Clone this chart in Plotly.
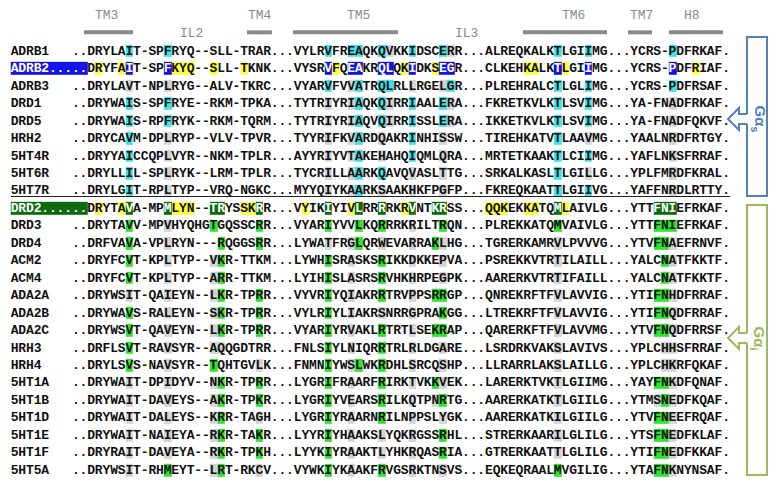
import plotly.graph_objects as go

# ---------------- data ----------------
names = ["ADRB1", "ADRB2", "ADRB3", "DRD1", "DRD5", "HRH2", "5HT4R", "5HT6R", "5HT7R",
         "DRD2", "DRD3", "DRD4", "ACM2", "ACM4", "ADA2A", "ADA2B", "ADA2C", "HRH3", "HRH4",
         "5HT1A", "5HT1B", "5HT1D", "5HT1E", "5HT1F", "5HT5A"]

# sequence blocks (TM3-IL2-TM4 | TM5-IL3 | TM6 | TM7-H8)
seg_tm3 = ["DRYLAIT-SPFRYQ--SLL-TRAR", "DRYFAIT-SPFKYQ--SLL-TKNK", "DRYLAVT-NPLRYG--ALV-TKRC",
           "DRYWAIS-SPFRYE--RKM-TPKA", "DRYWAIS-RPFRYK--RKM-TQRM", "DRYCAVM-DPLRYP--VLV-TPVR",
           "DRYYAICCQPLVYR--NKM-TPLR", "DRYLLIL-SPLRYK--LRM-TPLR", "DRYLGIT-RPLTYP--VRQ-NGKC",
           "DRYTAVA-MPMLYN--TRYSSKRR", "DRYTAVV-MPVHYQHGTGQSSCRR", "DRFVAVA-VPLRYN---RQGGSRR",
           "DRYFCVT-KPLTYP--VKR-TTKM", "DRYFCVT-KPLTYP--ARR-TTKM", "DRYWSIT-QAIEYN--LKR-TPRR",
           "DRYWAVS-RALEYN--SKR-TPRR", "DRYWSVT-QAVEYN--LKR-TPRR", "DRFLSVT-RAVSYR--AQQGDTRR",
           "DRYLSVS-NAVSYR--TQHTGVLK", "DRYWAIT-DPIDYV--NKR-TPRR", "DRYWAIT-DAVEYS--AKR-TPKR",
           "DRYWAIT-DALEYS--KRR-TAGH", "DRYWAIT-NAIEYA--RKR-TAKR", "DRYRAIT-DAVEYA--RKR-TPKH",
           "DRYWSIT-RHMEYT--LRT-RKCV"]
seg_tm5 = ["VYLRVFREAQKQVKKIDSCERR", "VYSRVFQEAKRQLQKIDKSEGR", "VYARVFVVATRQLRLLRGELGR",
           "TYTRIYRIAQKQIRRIAALERA", "TYTRIYRIAQVQIRRISSLERA", "TYYRIFKVARDQAKRINHISSW",
           "AYYRIYVTAKEHAHQIQMLQRA", "TYCRILLAARKQAVQVASLTTG", "MYYQIYKAARKSAAKHKFPGFP",
           "VYIKIYIVLRRRRKRVNTKRSS", "VYARIYVVLKQRRRKRILTRQN", "LYWATFRGLQRWEVARRAKLHG",
           "LYWHISRASKSRIKKDKKEPVA", "LYIHISLASRSRVHKHRPEGPK", "VYVRIYQIAKRRTRVPPSRRGP",
           "VYLRIYLIAKRSNRRGPRAKGG", "VYARIYRVAKLRTRTLSEKRAP", "FNLSIYLNIQRRTRLRLDGARE",
           "FNMNIYWSLWKRDHLSRCQSHP", "LYGRIFRAARFRIRKTVKKVEK", "LYGRIYVEARSRILKQTPNRTG",
           "LYGRIYRAARNRILNPPSLYGK", "LYYRIYHAAKSLYQKRGSSRHL", "LYYKIYRAAKTLYHKRQASRIA",
           "VYWKIYKAAKFRVGSRKTNSVS"]
seg_tm6 = ["ALREQKALKTLGIIMG", "CLKEHKALKTLGIIMG", "PLREHRALCTLGLIMG", "FKRETKVLKTLSVIMG",
           "IKKETKVLKTLSVIMG", "TIREHKATVTLAAVMG", "MRTETKAAKTLCIIMG", "SRKALKASLTLGILLG",
           "FKREQKAATTLGIIVG", "QQKEKKATQMLAIVLG", "PLREKKATQMVAIVLG", "TGRERKAMRVLPVVVG",
           "PSREKKVTRTILAILL", "AARERKVTRTIFAILL", "QNREKRFTFVLAVVIG", "LTREKRFTFVLAVVIG",
           "QARERKFTFVLAVVMG", "LSRDRKVAKSLAVIVS", "LLRARRLAKSLAILLG", "LARERKTVKTLGIIMG",
           "AARERKATKTLGIILG", "AARERKATKILGIILG", "STRERKAARILGLILG", "GTRERKAATTLGLILG",
           "EQKEQRAALMVGILIG"]
seg_tm7 = ["YCRS-PDFRKAF", "YCRS-PDFRIAF", "YCRS-PDFRSAF", "YA-FNADFRKAF", "YA-FNADFQKVF",
           "YAALNRDFRTGY", "YAFLNKSFRRAF", "YPLFMRDFKRAL", "YAFFNRDLRTTY", "YTTFNIEFRKAF",
           "YTTFNIEFRKAF", "YTVFNAEFRNVF", "YALCNATFKKTF", "YALCNATFKKTF", "YTIFNHDFRRAF",
           "YTIFNQDFRRAF", "YTVFNQDFRRSF", "YPLCHHSFRRAF", "YPLCHKRFQKAF", "YAYFNKDFQNAF",
           "YTMSNEDFKQAF", "YTVFNEEFRQAF", "YTSFNEDFKLAF", "YTIFNEDFKKAF", "YTAFNKNYNSAF"]

# residue shading: c cyan, g grey, y yellow, b blue, G green, d dark green, . none
hl_tm3 = [".....c....c.............", ".y..yb....byyy..y...y...", ".....g....g.............",
          ".....c....c.............", ".....c....c.............", ".....c....g.............",
          ".....c....g.............", ".....c....g.............", ".....c....g.............",
          ".y..yd....dyyy..dd..yyd.", ".....G....g.....G.....G.", ".....G....g......G....G.",
          ".....G....g.....gG......", ".....G....g.....gG......", ".....g....g.....gG....G.",
          ".....G....g.....gG....G.", ".....G....g.....gG....G.", ".....G....g.....gg......",
          ".....G....g.....G.....g.", ".....g....g.....gG....G.", ".....g....g.....gG....G.",
          ".....g....g.....gG....g.", ".....g....g.....gG....G.", ".....g....g.....gG....G.",
          ".....g....G.....gG....g."]
hl_tm5 = ["....c..cc..cg..c...cg.", "....by.bb..bb.yb..ybb.", "....c..gc..cc..g...gc.",
          "....g..gc..cg..c...cg.", "....g..gc..cg..c...cg.", "....g..gc..g...c...g..",
          "....g..gc..g...c...g..", "....g..gc..c...g...g..", "....g..gc..g...g...g..",
          ".y..d..yd..d..yd..dd..", "....G...G..G...g...G..", "....g..gG..g...g..Gg..",
          "....G..g...G...g...g..", "....G..g...G...g...g..", "....G..g...G...g..GG..",
          "....G..g...g...g...G..", "....G..g...G...g..GG..", "....G..g...G...g...g..",
          "....G..gG..G...g...g..", "....G..g...G...g..Gg..", "....G..g...G...g..gG..",
          "....G..g...G...g...g..", "....G..g...g...g...G..", "....G..g...g...g...G..",
          "....G..g...G...g...g.."]
hl_tm6 = [".........c...c..", ".....yy..by..b..", ".........c...c..", ".........c...c..",
          ".........c...c..", ".........c...g..", ".........c...c..", ".........c...g..",
          ".........c...c..", "yyy..yy..dy.....", ".........G......", ".........g......",
          ".........g......", ".........g......", ".........g......", ".........g......",
          ".........g......", ".........g......", ".........g......", ".........g......",
          ".........g......", ".........g......", ".........g......", ".........g......",
          ".........G......"]
hl_tm7 = [".....c......", ".....b..y...", ".....c......", ".....g......", ".....g......",
          ".....g......", ".....g......", ".....g......", ".....g......", "...ddd......",
          "...GGG......", "...GGg......", "....Gg......", "....Gg......", "...GGg......",
          "...GGg......", "...GGg......", "....gg......", "....gg......", "...GGg......",
          "...gGg......", "...GGg......", "...GGg......", "...GGg......", "...GGg......"]

name_shading = {"ADRB2": "b", "DRD2": "d"}

region_labels = ["TM3", "TM4", "TM5", "TM6", "TM7", "H8"]
loop_labels = ["IL2", "IL3"]

# ---------------- styling ----------------
# the page body has an 8 px margin, so the figure is drawn 8 px smaller and all
# positions below are expressed in page pixels
OFF = 8
W, H = 780, 490
FW, FH = W - OFF, H - OFF
CW = 7.65            # px per column
X0PX = 75.8          # page pixel centre of column 0
ROW0PX, ROWH = 51.5, 17.46

codes = {"c": 0, "g": 1, "y": 2, "b": 3, "G": 4, "d": 5}
cols = ["#3fe3e6", "#d4d4d4", "#ffff3a", "#1414e8", "#2ee52e", "#0c6b0f"]


def px_to_x(px):
    return (px - X0PX) / CW


def py_to_y(py):
    return (py - ROW0PX) / ROWH


ncol_first = -8
xs_all = list(range(ncol_first, 86))
z = []
tx, ty, tt, tc = [], [], [], []
for r, nm in enumerate(names):
    if nm in name_shading:
        head = nm + "." * (10 - len(nm))
        head_m = name_shading[nm] * 10
    else:
        head = nm.ljust(8) + ".."
        head_m = "." * 10
    seq = seg_tm3[r] + "..." + seg_tm5[r] + "..." + seg_tm6[r] + "..." + seg_tm7[r] + "."
    msk = hl_tm3[r] + "..." + hl_tm5[r] + "..." + hl_tm6[r] + "..." + hl_tm7[r] + "."
    line = head + seq
    mline = head_m + msk
    assert len(line) == len(xs_all), (nm, len(line))
    assert len(mline) == len(xs_all), (nm, len(mline))
    zr = []
    for k, (ch, m) in enumerate(zip(line, mline)):
        zr.append(codes[m] if m in codes else None)
        if ch != " ":
            tx.append(xs_all[k])
            ty.append(r)
            tt.append(ch)
            tc.append("white" if m in ("b", "d") else "#111111")
    z.append(zr)

n = len(cols)
cscale = []
for i, c in enumerate(cols):
    cscale.append([i / n, c])
    cscale.append([(i + 1) / n, c])

fig = go.Figure()
fig.add_trace(go.Heatmap(
    x=xs_all, y=list(range(len(names))), z=z,
    zmin=-0.5, zmax=n - 0.5, colorscale=cscale, showscale=False,
    xgap=0, ygap=5, hoverinfo="skip"))
fig.add_trace(go.Scatter(
    x=tx, y=ty, text=tt, mode="text", hoverinfo="skip",
    textfont=dict(family="Liberation Mono", size=13, color=tc, weight="bold"),
    showlegend=False))

# header bars and labels
bar_spans = [(84, 133), (247, 272), (293, 398), (523, 607), (628, 652), (669, 723)]
lab_px = [106.7, 260, 358.5, 573, 641, 692]
ybar = py_to_y(32.3)
for (a, b), lab, lx in zip(bar_spans, region_labels, lab_px):
    fig.add_shape(type="line", xref="x", yref="y", x0=px_to_x(a), x1=px_to_x(b),
                  y0=ybar, y1=ybar, line=dict(color="#8a8a8a", width=4))
    fig.add_annotation(x=px_to_x(lx), y=py_to_y(15.5), text=lab, showarrow=False,
                       xref="x", yref="y",
                       font=dict(family="Liberation Mono", size=13, color="#8a8a8a"))
for lab, lx in zip(loop_labels, [191, 466]):
    fig.add_annotation(x=px_to_x(lx), y=py_to_y(33), text=lab, showarrow=False,
                       xref="x", yref="y",
                       font=dict(family="Liberation Mono", size=13, color="#8a8a8a"))

# separator between Gs and Gi coupled receptors
ysep = py_to_y(196.5)
fig.add_shape(type="line", xref="x", yref="y", x0=px_to_x(11), x1=px_to_x(730),
              y0=ysep, y1=ysep, line=dict(color="#222222", width=1.2))


def P(x, y):
    return f"{(x - OFF) / FW:.5f},{1 - (y - OFF) / FH:.5f}"


# brackets
def bracket(top, bot, mid, color, label):
    L, R = 747, 767
    fig.add_shape(type="path", xref="paper", yref="paper",
                  path=f"M {P(L, mid - 5)} L {P(L, top)} L {P(R, top)} L {P(R, bot)} L {P(L, bot)} L {P(L, mid + 5)}",
                  line=dict(color=color, width=2))
    # hollow arrow pointing left
    fig.add_shape(type="path", xref="paper", yref="paper",
                  path=(f"M {P(L, mid - 5)} L {P(739, mid - 5)} L {P(739, mid - 11)} L {P(728, mid)} "
                        f"L {P(739, mid + 11)} L {P(739, mid + 5)} L {P(L, mid + 5)}"),
                  line=dict(color=color, width=2))
    fig.add_annotation(x=(758.5 - OFF) / FW, y=1 - (mid - OFF) / FH, xref="paper", yref="paper",
                       text=label, textangle=90, showarrow=False,
                       xanchor="center", yanchor="middle",
                       font=dict(family="Liberation Sans", size=15, color=color, weight="bold"))


bracket(37, 196, 119, "#4f81bd", "Gα<sub>s</sub>")
bracket(205, 475, 338, "#9bbb59", "Gα<sub>i</sub>")

fig.update_layout(
    width=FW, height=FH, margin=dict(l=0, r=0, t=0, b=0),
    paper_bgcolor="white", plot_bgcolor="white", showlegend=False,
    xaxis=dict(range=[px_to_x(OFF), px_to_x(W)], visible=False, fixedrange=True),
    yaxis=dict(range=[py_to_y(H), py_to_y(OFF)], visible=False, fixedrange=True),
)
fig.write_html("out.html")
